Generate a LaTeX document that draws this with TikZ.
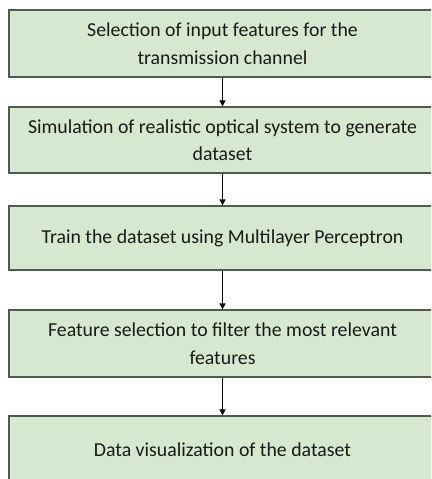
\documentclass[tikz,border=0pt]{standalone}
\usepackage{fontspec}
\setmainfont{Carlito}
\usetikzlibrary{arrows.meta}
\definecolor{boxfill}{RGB}{214,232,208}
\definecolor{boxline}{RGB}{80,90,80}
\begin{document}
\begin{tikzpicture}[x=1pt,y=1pt,
  stepbox/.style={draw=boxline, line width=1.2pt, fill=boxfill, minimum width=427pt,
    inner sep=0pt, align=center, font=\fontsize{19.8}{27.5}\selectfont, text=black!90},
  flow/.style={-{Triangle[length=6pt,width=6pt]}, line width=0.8pt, black}]
\useasboundingbox (0,0) rectangle (431,-479);
\clip (0,0) rectangle (431,-479);
\node[stepbox, minimum height=67pt] (s1) at (222.5,-43.5) {Selection of input features for the\\transmission channel};
\node[stepbox, minimum height=66pt] (s2) at (222.5,-140) {Simulation of realistic optical system to generate\\dataset};
\node[stepbox, minimum height=64pt] (s3) at (222.5,-238) {Train the dataset using Multilayer Perceptron};
\node[stepbox, minimum height=67pt] (s4) at (222.5,-343.5) {Feature selection to filter the most relevant\\features};
\node[stepbox, minimum height=67pt] (s5) at (222.5,-449.5) {Data visualization of the dataset};
\draw[flow] (s1) -- (s2);
\draw[flow] (s2) -- (s3);
\draw[flow] (s3) -- (s4);
\draw[flow] (s4) -- (s5);
\end{tikzpicture}
\end{document}
